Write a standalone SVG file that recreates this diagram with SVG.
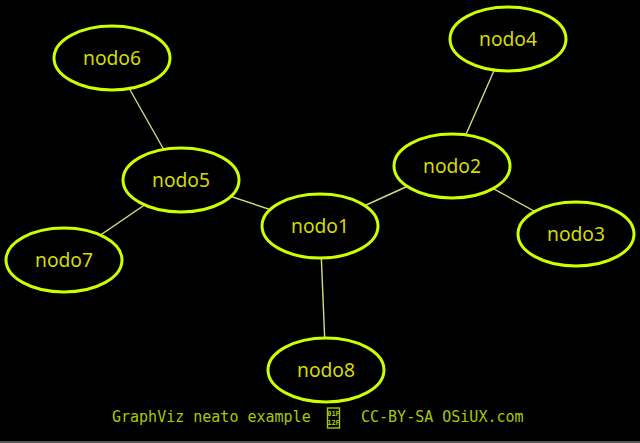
<svg xmlns="http://www.w3.org/2000/svg" width="640" height="443" viewBox="0 0 640 443">
<style>
.node ellipse{fill:#000;stroke:#ccff00;stroke-width:3}
.node text{fill:#d4dc00;font-family:"Noto Sans","Liberation Sans",sans-serif;font-size:20px;text-anchor:middle}
.edge{stroke:#d8d880;stroke-width:1.4}
.foot{fill:#a8c800;font-family:"DejaVu Sans Mono","Liberation Mono",monospace;font-size:15px}
.hex{fill:#a8c800;font-family:"DejaVu Sans Mono","Liberation Mono",monospace;font-size:7px;font-weight:bold;text-anchor:middle}
</style>
<rect x="0" y="0" width="640" height="443" fill="#000"/>
<rect x="0" y="441" width="640" height="2" fill="#555"/>
<g id="edges">
<line class="edge" x1="112" y1="58" x2="181" y2="180"/>
<line class="edge" x1="181" y1="180" x2="64" y2="260"/>
<line class="edge" x1="181" y1="180" x2="320" y2="226"/>
<line class="edge" x1="320" y1="226" x2="452" y2="166"/>
<line class="edge" x1="452" y1="166" x2="508" y2="39"/>
<line class="edge" x1="452" y1="166" x2="576" y2="234"/>
<line class="edge" x1="320" y1="226" x2="326" y2="370"/>
</g>
<g id="nodo1" class="node"><ellipse cx="320" cy="226" rx="58" ry="32"/><text x="320" y="233" textLength="58" lengthAdjust="spacingAndGlyphs">nodo1</text></g>
<g id="nodo2" class="node"><ellipse cx="452" cy="166" rx="58" ry="32"/><text x="452" y="173" textLength="58" lengthAdjust="spacingAndGlyphs">nodo2</text></g>
<g id="nodo3" class="node"><ellipse cx="576" cy="234" rx="58" ry="32"/><text x="576" y="241" textLength="58" lengthAdjust="spacingAndGlyphs">nodo3</text></g>
<g id="nodo4" class="node"><ellipse cx="508" cy="39" rx="58" ry="32"/><text x="508" y="46" textLength="58" lengthAdjust="spacingAndGlyphs">nodo4</text></g>
<g id="nodo5" class="node"><ellipse cx="181" cy="180" rx="58" ry="32"/><text x="181" y="187" textLength="58" lengthAdjust="spacingAndGlyphs">nodo5</text></g>
<g id="nodo6" class="node"><ellipse cx="112" cy="58" rx="58" ry="32"/><text x="112" y="65" textLength="58" lengthAdjust="spacingAndGlyphs">nodo6</text></g>
<g id="nodo7" class="node"><ellipse cx="64" cy="260" rx="58" ry="32"/><text x="64" y="267" textLength="58" lengthAdjust="spacingAndGlyphs">nodo7</text></g>
<g id="nodo8" class="node"><ellipse cx="326" cy="370" rx="58" ry="32"/><text x="326" y="377" textLength="58" lengthAdjust="spacingAndGlyphs">nodo8</text></g>
<g id="footer">
<text class="foot" x="112" y="422">GraphViz neato example</text>
<rect x="327.5" y="408" width="12" height="20" fill="none" stroke="#a8c800" stroke-width="1.4"/>
<text class="hex" x="333.5" y="416">01F</text>
<text class="hex" x="333.5" y="425">12F</text>
<text class="foot" x="361" y="422">CC-BY-SA OSiUX.com</text>
</g>
</svg>
